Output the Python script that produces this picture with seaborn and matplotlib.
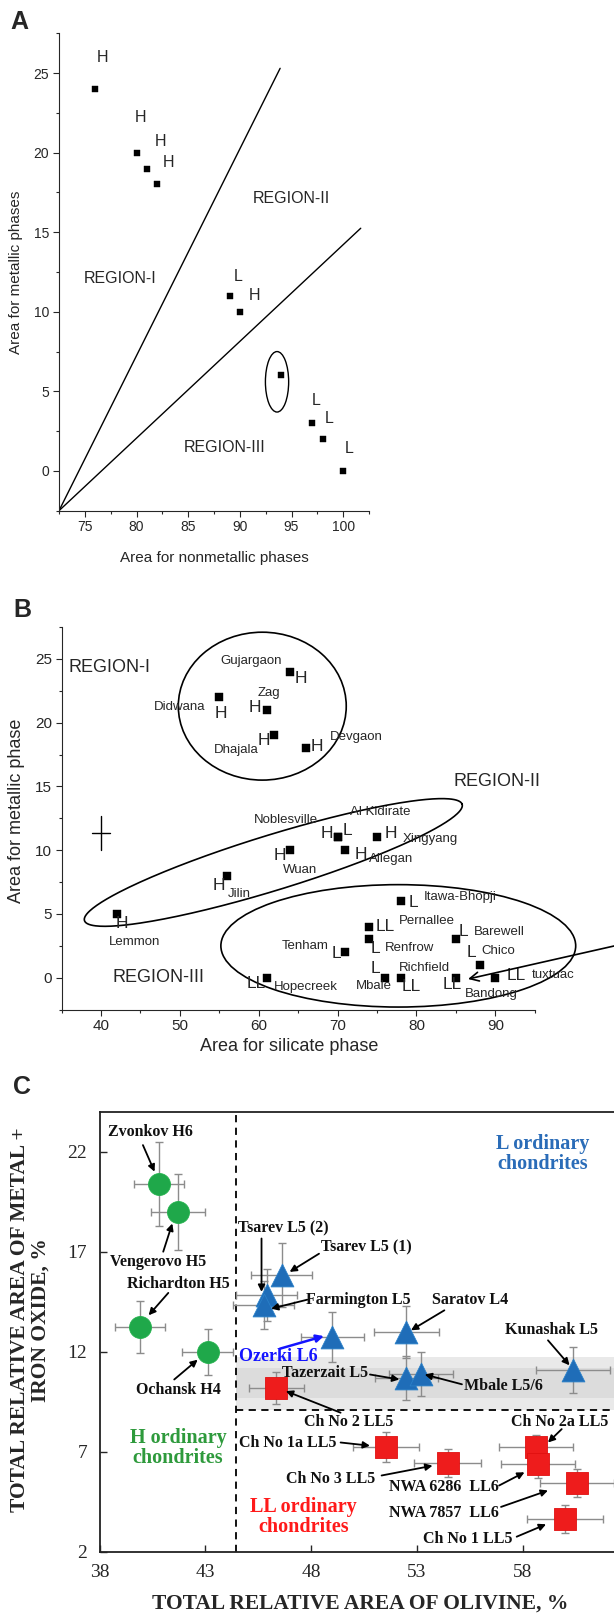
import numpy as np
import pandas as pd
import matplotlib
matplotlib.use("Agg")
import matplotlib.pyplot as plt
import seaborn as sns
from matplotlib.patches import Ellipse
from matplotlib.ticker import MultipleLocator, FixedLocator

sns.set_style("ticks")
plt.rcParams['font.family'] = ['Liberation Sans', 'DejaVu Sans']

# ---------------- Panel A data ----------------
a_nonmetal = [76, 80, 81, 82, 89, 90, 94, 97, 98, 100]
a_metal = [24, 20, 19, 18, 11, 10, 6, 3, 2, 0]
a_class = ["H", "H", "H", "H", "L", "H", "", "L", "L", "L"]
a_line1_x = [72.5, 93.9]
a_line1_y = [-2.5, 25.3]
a_line2_x = [72.5, 101.7]
a_line2_y = [-2.5, 15.25]

# ---------------- Panel B data ----------------
b_names = ["Gujargaon", "Didwana", "Zag", "Dhajala", "Devgaon", "Noblesville",
           "Al Kidirate", "Xingyang", "Allegan", "Wuan", "Jilin", "Lemmon",
           "Itawa-Bhopji", "Pernallee", "Renfrow", "Tenham", "Barewell", "Chico",
           "Hopecreek", "Mbale", "Richfield", "Bandong", "tuxtuac"]
b_silicate = [64, 55, 61, 62, 66, 70, 70, 75, 71, 64, 56, 42,
              78, 74, 74, 71, 85, 88, 61, 76, 78, 85, 90]
b_metal = [24, 22, 21, 19, 18, 11, 11, 11, 10, 10, 8, 5,
           6, 4, 3, 2, 3, 1, 0, 0, 0, 0, 0]
b_class = ["H", "H", "H", "H", "H", "H", "L", "H", "H", "H", "H", "H",
           "L", "LL", "L", "L", "L", "L", "LL", "L", "LL", "LL", "LL"]

# ---------------- Panel C data ----------------
h_names = ["Zvonkov H6", "Vengerovo H5", "Richardton H5", "Ochansk H4"]
h_olivine = [40.8, 41.7, 39.9, 43.1]
h_metal = [20.4, 19.0, 13.25, 12.0]
h_xerr = [1.2, 1.3, 1.2, 1.2]
h_yerr = [2.1, 1.9, 1.3, 1.15]

l_names = ["Tsarev L5 (1)", "Tsarev L5 (2)", "Farmington L5", "Ozerki L6",
           "Saratov L4", "Tazerzait L5", "Mbale L5/6", "Kunashak L5"]
l_olivine = [46.6, 45.9, 45.75, 49.0, 52.5, 52.5, 53.2, 60.4]
l_metal = [15.85, 14.85, 14.35, 12.75, 13.0, 10.7, 10.9, 11.1]
l_xerr = [1.45, 1.45, 1.45, 1.5, 1.55, 1.5, 1.5, 1.75]
l_yerr = [1.6, 1.3, 1.2, 1.25, 1.3, 1.1, 1.1, 1.15]

ll_names = ["Ch No 2 LL5", "Ch No 1a LL5", "Ch No 3 LL5", "Ch No 2a LL5",
            "NWA 6286  LL6", "NWA 7857  LL6", "Ch No 1 LL5"]
ll_olivine = [46.35, 51.55, 54.45, 58.65, 58.75, 60.55, 60.0]
ll_metal = [10.2, 7.25, 6.45, 7.25, 6.4, 5.45, 3.65]
ll_xerr = [1.3, 1.55, 1.6, 1.75, 1.75, 1.75, 1.8]
ll_yerr = [0.8, 0.75, 0.7, 0.6, 0.7, 0.7, 0.7]

c_xticks = [38, 43, 48, 53, 58]
c_yticks = [2, 7, 12, 17, 22]

W, H = 614, 1617
fig = plt.figure(figsize=(W / 100, H / 100), dpi=100)


def px_axes(left, top, right, bottom):
    return fig.add_axes([left / W, 1 - bottom / H, (right - left) / W, (bottom - top) / H])


# ================= Panel A =================
axA = px_axes(59, 33.3, 369, 510.7)
dfA = pd.DataFrame({"x": a_nonmetal, "y": a_metal})
sns.scatterplot(data=dfA, x="x", y="y", marker="s", color="black", s=24,
                edgecolor="black", linewidth=0.3, ax=axA, zorder=3)
axA.plot(a_line1_x, a_line1_y, color="black", lw=1.0)
axA.plot(a_line2_x, a_line2_y, color="black", lw=1.0)
axA.add_patch(Ellipse((93.6, 5.6), 2.25, 3.8, fill=False, ec="black", lw=1.0))
a_off = [(0.75, 2.0), (0.4, 2.2), (1.3, 1.7), (1.1, 1.4), (0.8, 1.2), (1.4, 1.0),
         (0, 0), (0.4, 1.45), (0.65, 1.3), (0.6, 1.4)]
for x, y, c, (dx, dy) in zip(a_nonmetal, a_metal, a_class, a_off):
    if c:
        axA.text(x + dx, y + dy, c, ha="center", va="center", fontsize=11.5)
axA.text(78.4, 12.1, "REGION-I", ha="center", va="center", fontsize=11.5)
axA.text(94.95, 17.1, "REGION-II", ha="center", va="center", fontsize=11.5)
axA.text(88.5, 1.45, "REGION-III", ha="center", va="center", fontsize=11.5)
axA.set_xlim(72.5, 102.5)
axA.set_ylim(-2.5, 27.5)
axA.xaxis.set_major_locator(MultipleLocator(5))
axA.xaxis.set_minor_locator(MultipleLocator(2.5))
axA.yaxis.set_major_locator(FixedLocator([0, 5, 10, 15, 20, 25]))
axA.yaxis.set_minor_locator(MultipleLocator(2.5))
axA.tick_params(which="major", direction="out", length=4, width=0.8, labelsize=10, pad=3)
axA.tick_params(which="minor", direction="out", length=2.5, width=0.8)
sns.despine(ax=axA)
axA.set_xlabel("Area for nonmetallic phases", fontsize=11)
axA.set_ylabel("Area for metallic phases", fontsize=11)
axA.xaxis.set_label_coords(0.5, -0.085)
axA.yaxis.set_label_coords(-0.115, 0.5)

# ================= Panel B =================
axB = px_axes(61.6, 627.1, 534.7, 1009.6)
dfB = pd.DataFrame({"x": b_silicate, "y": b_metal, "name": b_names, "cls": b_class})
sns.scatterplot(data=dfB, x="x", y="y", marker="s", color="black", s=26,
                edgecolor="black", linewidth=0.3, ax=axB, zorder=3)
letter_off = {
    "Gujargaon": (1.4, -0.5), "Didwana": (0.15, -1.3), "Zag": (-1.5, 0.2),
    "Dhajala": (-1.3, -0.36), "Devgaon": (1.4, 0.1), "Noblesville": (-1.35, 0.3),
    "Al Kidirate": (1.3, 0.57), "Xingyang": (1.8, 0.3), "Allegan": (1.9, -0.3),
    "Wuan": (-1.3, -0.4), "Jilin": (-1.0, -0.8), "Lemmon": (0.7, -0.78),
    "Itawa-Bhopji": (1.6, -0.1), "Pernallee": (2.1, 0.0), "Renfrow": (0.85, -0.72),
    "Tenham": (-1.1, -0.1), "Barewell": (1.0, 0.63), "Chico": (-1.0, 1.0),
    "Hopecreek": (-1.3, -0.44), "Mbale": (-1.25, 0.73), "Richfield": (1.3, -0.7),
    "Bandong": (-0.5, -0.57), "tuxtuac": (2.7, 0.2)}
name_pos = {
    "Gujargaon": (59.0, 24.84), "Didwana": (50.0, 21.2), "Zag": (61.35, 22.3),
    "Dhajala": (57.2, 17.85), "Devgaon": (72.4, 18.85), "Noblesville": (63.4, 12.36),
    "Al Kidirate": (75.35, 12.96), "Xingyang": (81.8, 10.9), "Allegan": (76.8, 9.35),
    "Wuan": (65.2, 8.43), "Jilin": (57.6, 6.55), "Lemmon": (44.2, 2.8),
    "Itawa-Bhopji": (85.5, 6.35), "Pernallee": (81.3, 4.48), "Renfrow": (79.1, 2.36),
    "Tenham": (65.9, 2.46), "Barewell": (90.5, 3.58), "Chico": (90.35, 2.1),
    "Hopecreek": (66.0, -0.75), "Mbale": (74.6, -0.65), "Richfield": (81.06, 0.8),
    "Bandong": (89.5, -1.27), "tuxtuac": (97.4, 0.2)}
for x, y, n, c in zip(b_silicate, b_metal, b_names, b_class):
    dx, dy = letter_off[n]
    axB.text(x + dx, y + dy, c, ha="center", va="center", fontsize=12.5, clip_on=False)
    nx, ny = name_pos[n]
    axB.text(nx, ny, n, ha="center", va="center", fontsize=9.5, clip_on=False)
axB.text(35.9, 24.3, "REGION-I", ha="left", va="center", fontsize=13)
axB.text(90.25, 15.4, "REGION-II", ha="center", va="center", fontsize=13, clip_on=False)
axB.text(47.3, 0.0, "REGION-III", ha="center", va="center", fontsize=13)
# error cross
axB.plot([38.8, 41.2], [11.35, 11.35], color="black", lw=1.0)
axB.plot([40, 40], [10.05, 12.67], color="black", lw=1.0)
# enclosures
axB.add_patch(Ellipse((60.45, 21.3), 21.3, 11.6, fill=False, ec="black", lw=1.2))
t = np.linspace(0, 2 * np.pi, 300)
cx, cy = 61.85, 9.04
ux, uy = 23.95, 4.56
vx, vy = -1.03, 2.07
axB.plot(cx + ux * np.cos(t) + vx * np.sin(t), cy + uy * np.cos(t) + vy * np.sin(t),
         color="black", lw=1.2)
axB.add_patch(Ellipse((77.7, 2.5), 45.0, 9.6, fill=False, ec="black", lw=1.2, clip_on=False))
axB.annotate("", xy=(86.2, -0.15), xytext=(108, 2.9), annotation_clip=False,
             arrowprops=dict(arrowstyle="->", color="black", lw=1.2,
                             mutation_scale=16))
axB.set_xlim(35, 95)
axB.set_ylim(-2.5, 27.5)
axB.xaxis.set_major_locator(FixedLocator([40, 50, 60, 70, 80, 90]))
axB.xaxis.set_minor_locator(MultipleLocator(5))
axB.yaxis.set_major_locator(FixedLocator([0, 5, 10, 15, 20, 25]))
axB.yaxis.set_minor_locator(MultipleLocator(2.5))
axB.tick_params(which="major", direction="out", length=4, width=0.8, labelsize=11, pad=3)
axB.tick_params(which="minor", direction="out", length=2.5, width=0.8)
sns.despine(ax=axB)
axB.set_xlabel("Area for silicate phase", fontsize=13)
axB.set_ylabel("Area for metallic phase", fontsize=13)
axB.xaxis.set_label_coords(0.48, -0.075)
axB.yaxis.set_label_coords(-0.077, 0.52)

# ================= Panel C =================
serif = ['Liberation Serif', 'DejaVu Serif']
axC = px_axes(99.8, 1111.7, 99.8 + 25 * 21.14, 1551.7)
axC.set_xlim(38, 63)
axC.set_ylim(2, 24)

# shaded band and dashed separators
axC.fill_between([44.45, 63], 9.1, 11.75, color="#e9e9e9", lw=0, zorder=0)
axC.fill_between([44.45, 63], 9.7, 11.2, color="#dcdcdc", lw=0, zorder=0)
axC.axvline(44.42, color="black", ls=(0, (4, 3)), lw=1.3, zorder=1)
axC.plot([44.42, 63], [9.1, 9.1], color="black", ls=(0, (4, 3)), lw=1.3, zorder=1)

ebar_kw = dict(fmt="none", ecolor="#8c8c8c", elinewidth=1.0, capsize=3, capthick=1.0, zorder=2)
axC.errorbar(h_olivine, h_metal, xerr=h_xerr, yerr=h_yerr, **ebar_kw)
axC.errorbar(l_olivine, l_metal, xerr=l_xerr, yerr=l_yerr, **ebar_kw)
axC.errorbar(ll_olivine, ll_metal, xerr=ll_xerr, yerr=ll_yerr, **ebar_kw)

dfH = pd.DataFrame({"x": h_olivine, "y": h_metal})
dfL = pd.DataFrame({"x": l_olivine, "y": l_metal})
dfLL = pd.DataFrame({"x": ll_olivine, "y": ll_metal})
sns.scatterplot(data=dfH, x="x", y="y", marker="o", color="#1fa84a", s=250,
                edgecolor="#22b14c", linewidth=0.6, ax=axC, zorder=3)
sns.scatterplot(data=dfL, x="x", y="y", marker="^", color="#1f6db8", s=270,
                edgecolor="#2a80c8", linewidth=0.6, ax=axC, zorder=3)
sns.scatterplot(data=dfLL, x="x", y="y", marker="s", color="#ee1c1c", s=250,
                edgecolor="#e01010", linewidth=0.6, ax=axC, zorder=3)

c_labels = [
    ("Zvonkov H6", (40.41, 22.97), (40.04, 22.33), (40.59, 21.0)),
    ("Vengerovo H5", (40.78, 16.49), (41.0, 17.0), (41.43, 18.41)),
    ("Richardton H5", (41.70, 15.41), (41.24, 14.94), (40.31, 13.82)),
    ("Ochansk H4", (41.7, 10.11), (41.52, 10.61), (42.63, 11.6)),
    ("Tsarev L5 (2)", (46.7, 18.16), (45.65, 17.66), (45.65, 14.99)),
    ("Tsarev L5 (1)", (50.6, 17.24), (48.37, 16.9), (46.98, 15.99)),
    ("Farmington L5", (50.22, 14.6), (47.81, 14.6), (46.1, 14.15)),
    ("Saratov L4", (55.5, 14.57), (54.3, 14.07), (52.72, 13.07)),
    ("Tazerzait L5", (48.65, 10.94), (50.78, 10.86), (52.17, 10.61)),
    ("Mbale L5/6", (57.07, 10.28), (55.13, 10.37), (53.37, 10.86)),
    ("Kunashak L5", (59.39, 13.07), (59.2, 12.57), (60.22, 11.32)),
    ("Ch No 2 LL5", (49.76, 8.49), (49.39, 8.95), (46.8, 10.03)),
    ("Ch No 1a LL5", (46.89, 7.46), (49.39, 7.46), (50.78, 7.3)),
    ("Ch No 2a LL5", (59.76, 8.46), (59.85, 8.13), (59.2, 7.46)),
    ("Ch No 3 LL5", (48.93, 5.64), (51.33, 5.81), (53.74, 6.3)),
    ("NWA 6286  LL6", (54.3, 5.23), (56.89, 5.31), (58.09, 5.97)),
    ("NWA 7857  LL6", (54.3, 3.94), (56.98, 4.24), (59.2, 5.06)),
    ("Ch No 1 LL5", (55.41, 2.66), (57.72, 2.75), (59.11, 3.37)),
]
for txt, tp, tail, head in c_labels:
    axC.text(tp[0], tp[1], txt, ha="center", va="center", fontsize=11.5,
             fontweight="bold", family=serif, color="#111111", zorder=5, clip_on=False)
    axC.annotate("", xy=head, xytext=tail, zorder=5,
                 arrowprops=dict(arrowstyle="-|>", color="black", lw=1.3,
                                 mutation_scale=10, shrinkA=0, shrinkB=0))
axC.text(46.43, 11.77, "Ozerki L6", ha="center", va="center", fontsize=13,
         fontweight="bold", family=serif, color="#1414ff", zorder=5)
axC.annotate("", xy=(48.6, 12.78), xytext=(46.52, 12.15), zorder=5,
             arrowprops=dict(arrowstyle="-|>", color="#1414ff", lw=1.8,
                             mutation_scale=11, shrinkA=0, shrinkB=0))
axC.text(58.93, 21.9, "L ordinary\nchondrites", ha="center", va="center", fontsize=14.5,
         fontweight="bold", family=serif, color="#2a6cb8", linespacing=1.0)
axC.text(41.7, 7.2, "H ordinary\nchondrites", ha="center", va="center", fontsize=14.5,
         fontweight="bold", family=serif, color="#2e9a3c", linespacing=1.0)
axC.text(47.63, 3.74, "LL ordinary\nchondrites", ha="center", va="center", fontsize=14.5,
         fontweight="bold", family=serif, color="#ff1a1a", linespacing=1.0)

axC.xaxis.set_major_locator(FixedLocator(c_xticks))
axC.yaxis.set_major_locator(FixedLocator(c_yticks))
axC.tick_params(direction="in", length=5, width=1.0, labelsize=14, pad=9,
                top=False, right=False)
for lab in axC.get_xticklabels() + axC.get_yticklabels():
    lab.set_family(serif)
for s in ["left", "bottom", "top"]:
    axC.spines[s].set_linewidth(1.3)
    axC.spines[s].set_color("#222222")
axC.spines["right"].set_visible(False)
axC.set_xlabel("TOTAL RELATIVE AREA OF OLIVINE, %", fontsize=15.5, fontweight="bold",
               family=serif)
axC.set_ylabel("TOTAL RELATIVE AREA OF METAL +\nIRON OXIDE, %", fontsize=15.5,
               fontweight="bold", family=serif, linespacing=1.0)
axC.xaxis.set_label_coords(0.492, -0.095)
axC.yaxis.set_label_coords(-0.094, 0.527)

# panel letters
for lab, (px, py) in {"A": (19, 22), "B": (22, 610), "C": (22, 1087)}.items():
    fig.text(px / W, 1 - py / H, lab, fontsize=18, fontweight="bold",
             ha="center", va="center")

fig.savefig("out.png", dpi=100)
